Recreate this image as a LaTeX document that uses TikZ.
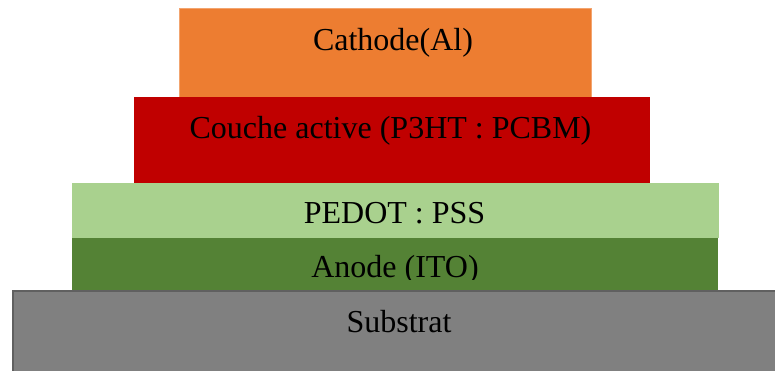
\documentclass[tikz,border=0pt]{standalone}
\usepackage{fontspec}
\setmainfont{Liberation Serif}
\definecolor{cOrange}{HTML}{ED7D31}
\definecolor{cRed}{HTML}{C00000}
\definecolor{cLight}{HTML}{A9D18E}
\definecolor{cGreen}{HTML}{548235}
\definecolor{cGray}{HTML}{808080}
\definecolor{cGrayEdge}{HTML}{606060}
\begin{document}
\begin{tikzpicture}[x=1pt,y=-1pt,
  lbl/.style={font=\fontsize{32}{36}\selectfont, text=black, inner sep=0pt, anchor=base}]
\useasboundingbox (0,0) rectangle (775,371);
\fill[cOrange, draw=cOrange!70!white, line width=0.6pt] (179,8) rectangle (591,97);
\node[lbl] (cathode) at (393,51) {Cathode(Al)};
\fill[cRed] (134,97) rectangle (650,183);
\node[lbl] (active) at (390.5,139) {Couche active (P3HT : PCBM)};
\fill[cLight] (72,183) rectangle (719,238);
\node[lbl] (pedot) at (394.5,223) {PEDOT : PSS};
\fill[cGreen] (72,238) rectangle (718,290);
\begin{scope}
\clip (72,238) rectangle (718,279.5);
\node[lbl] (anode) at (395,277) {Anode (ITO)};
\end{scope}
\fill[cGray, draw=cGrayEdge, line width=2pt] (13,291) rectangle (777,373);
\node[lbl] (substrat) at (399,332) {Substrat};
\end{tikzpicture}
\end{document}
